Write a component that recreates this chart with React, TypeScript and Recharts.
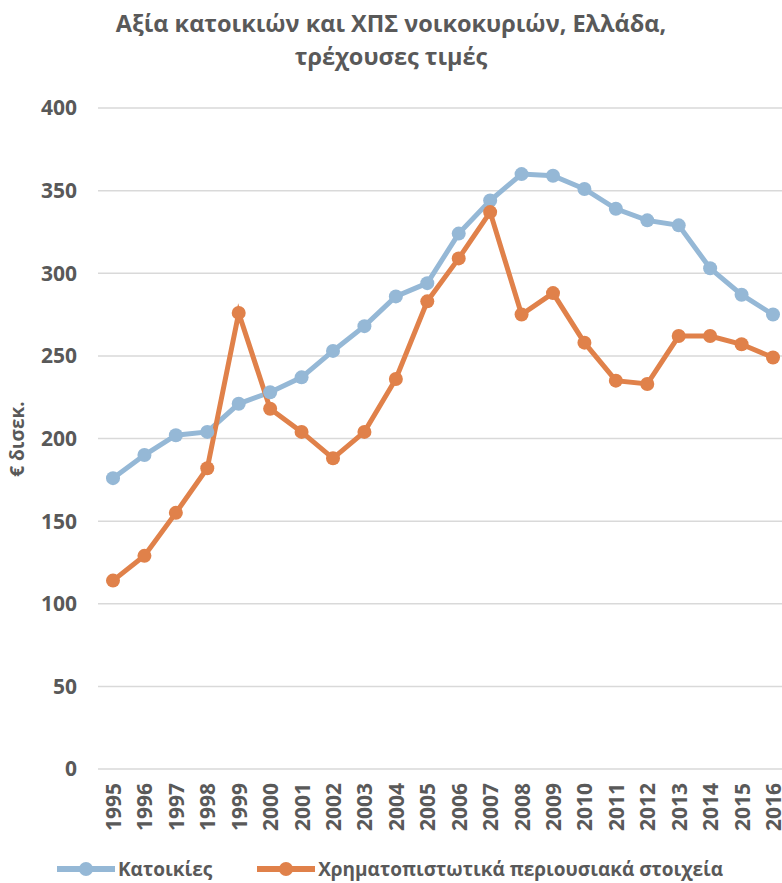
import React from 'react'
import { LineChart, Line, XAxis, YAxis, CartesianGrid } from 'recharts'

const years = [
  '1995', '1996', '1997', '1998', '1999', '2000', '2001', '2002', '2003', '2004', '2005',
  '2006', '2007', '2008', '2009', '2010', '2011', '2012', '2013', '2014', '2015', '2016',
]

// Κατοικίες
const housing = [
  176, 190, 202, 204, 221, 228, 237, 253, 268, 286, 294,
  324, 344, 360, 359, 351, 339, 332, 329, 303, 287, 275,
]

// Χρηματοπιστωτικά περιουσιακά στοιχεία
const financial = [
  114, 129, 155, 182, 276, 218, 204, 188, 204, 236, 283,
  309, 337, 275, 288, 258, 235, 233, 262, 262, 257, 249,
]

const yTicks = [0, 50, 100, 150, 200, 250, 300, 350, 400]

const series = [
  { key: 'housing', name: 'Κατοικίες', color: '#95B8D6' },
  { key: 'financial', name: 'Χρηματοπιστωτικά περιουσιακά στοιχεία', color: '#E0814A' },
]

const data = years.map((year, i) => ({
  year,
  housing: housing[i],
  financial: financial[i],
}))

const GREY = '#595959'
const FONT = '"Open Sans", sans-serif'

function YearTick({ x, y, payload }: any) {
  return (
    <text
      x={x}
      y={y}
      transform={`rotate(-90, ${x}, ${y})`}
      textAnchor="end"
      dominantBaseline="central"
      fill={GREY}
      fontSize={21}
      fontWeight={700}
      fontFamily={FONT}
    >
      {payload.value}
    </text>
  )
}

function LegendItem({ name, color }: { name: string; color: string }) {
  return (
    <div style={{ display: 'flex', alignItems: 'center', marginRight: 45, whiteSpace: 'nowrap' }}>
      <svg width={58} height={16} style={{ marginRight: 3 }}>
        <line x1={1} y1={8} x2={57} y2={8} stroke={color} strokeWidth={6} strokeLinecap="round" />
        <circle cx={29} cy={8} r={7} fill={color} />
      </svg>
      <span style={{ color: GREY, fontSize: 19, fontWeight: 700, fontFamily: FONT }}>{name}</span>
    </div>
  )
}

export default function App() {
  return (
    <div style={{ position: 'absolute', left: 0, top: 0, width: 782, height: 883, overflow: 'hidden', background: '#fff' }}>
      <div
        style={{
          position: 'absolute',
          top: 7,
          left: 0,
          width: 782,
          textAlign: 'center',
          color: GREY,
          fontFamily: FONT,
          fontWeight: 700,
          fontSize: 23.5,
          lineHeight: '33px',
          whiteSpace: 'nowrap',
        }}
      >
        Αξία κατοικιών και ΧΠΣ νοικοκυριών, Ελλάδα,
        <br />
        τρέχουσες τιμές
      </div>
      <div
        style={{
          position: 'absolute',
          left: 17,
          top: 439,
          transform: 'translate(-50%, -50%) rotate(-90deg)',
          color: GREY,
          fontFamily: FONT,
          fontWeight: 700,
          fontSize: 19,
          whiteSpace: 'nowrap',
          lineHeight: 1,
        }}
      >
        € δισεκ.
      </div>
      <LineChart
        width={790}
        height={883}
        data={data}
        margin={{ top: 108, right: 2, bottom: 0, left: 0 }}
      >
        <CartesianGrid vertical={false} stroke="#D9D9D9" strokeWidth={1.5} />
        <XAxis
          dataKey="year"
          height={114}
          padding={{ left: 15, right: 15 }}
          axisLine={false}
          tickLine={false}
          tickMargin={8}
          interval={0}
          tick={<YearTick />}
        />
        <YAxis
          width={98}
          domain={[0, 400]}
          ticks={yTicks}
          axisLine={false}
          tickLine={false}
          tickMargin={15}
          tick={{ fill: GREY, fontSize: 21, fontWeight: 700, fontFamily: FONT }}
        />
        {series.map((s) => (
          <Line
            key={s.key}
            dataKey={s.key}
            name={s.name}
            stroke={s.color}
            strokeWidth={5}
            dot={{ r: 7, fill: s.color, stroke: s.color, strokeWidth: 0 }}
            activeDot={false}
            isAnimationActive={false}
          />
        ))}
      </LineChart>
      <div
        style={{
          position: 'absolute',
          left: 57,
          top: 856,
          width: 725,
          display: 'flex',
          alignItems: 'center',
          whiteSpace: 'nowrap',
        }}
      >
        {series.map((s) => (
          <LegendItem key={s.key} name={s.name} color={s.color} />
        ))}
      </div>
    </div>
  )
}
